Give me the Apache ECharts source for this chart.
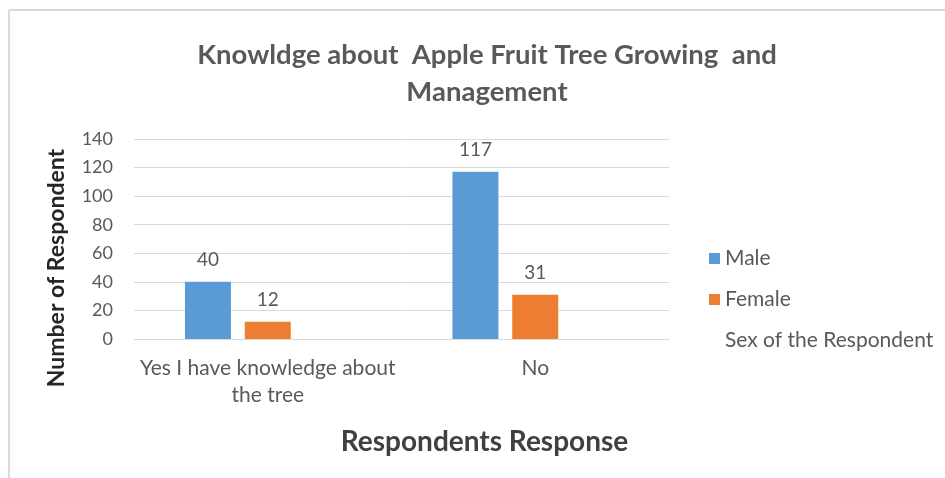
<!DOCTYPE html>
<html>
<head>
<meta charset="utf-8">
<script src="https://cdn.jsdelivr.net/npm/echarts@6/dist/echarts.min.js"></script>
<style>
  html, body { margin: 0; padding: 0; background: #ffffff; }
  #chart { width: 945px; height: 478px; }
</style>
</head>
<body>
<div id="chart"></div>
<script>
// Responses grouped by answer, split by sex of the respondent
const categories = ['Yes I have knowledge about\nthe tree', 'No'];
const maleValues = [40, 117];
const femaleValues = [12, 31];
const sexOfRespondentValues = [];   // legend-only entry, no bars
const yTicks = { min: 0, max: 140, interval: 20 };

const FONT = 'Lato, "Open Sans", sans-serif';
const TEXT = '#595959';
const GRID = '#d9d9d9';

const chart = echarts.init(document.getElementById('chart'), null, { renderer: 'canvas' });

const labelStyle = {
  show: true,
  position: 'top',
  distance: 12,
  fontFamily: FONT,
  fontSize: 19,
  color: TEXT
};

chart.setOption({
  backgroundColor: '#ffffff',
  animation: false,
  title: {
    text: 'Knowldge about  Apple Fruit Tree Growing  and\nManagement',
    left: 482,
    textAlign: 'center',
    top: 32,
    textStyle: {
      fontFamily: FONT,
      fontSize: 27.5,
      fontWeight: 'bold',
      color: TEXT,
      lineHeight: 37
    }
  },
  legend: {
    orient: 'vertical',
    left: 704,
    top: 243,
    itemWidth: 11,
    itemHeight: 11,
    itemGap: 20,
    textStyle: { fontFamily: FONT, fontSize: 21, color: TEXT },
    data: [
      { name: 'Male', icon: 'rect' },
      { name: 'Female', icon: 'rect' },
      { name: 'Sex of the Respondent', icon: 'none' }
    ]
  },
  grid: { left: 134, right: 276, top: 139, bottom: 139, containLabel: false },
  xAxis: {
    type: 'category',
    data: categories,
    axisLine: { show: true, lineStyle: { color: GRID, width: 1 } },
    axisTick: { show: false },
    axisLabel: {
      interval: 0,
      margin: 16,
      fontFamily: FONT,
      fontSize: 21,
      lineHeight: 27,
      color: TEXT,
      align: 'center'
    },
    name: 'Respondents Response',
    nameLocation: 'middle',
    nameGap: 89,
    nameTextStyle: {
      fontFamily: FONT,
      fontSize: 28,
      fontWeight: 'bold',
      color: '#404040',
      padding: [0, 0, 0, 166]
    }
  },
  yAxis: {
    type: 'value',
    min: yTicks.min,
    max: yTicks.max,
    interval: yTicks.interval,
    axisLine: { show: false },
    axisTick: { show: false },
    splitLine: { lineStyle: { color: GRID, width: 1 } },
    axisLabel: {
      margin: 21,
      fontFamily: FONT,
      fontSize: 18,
      color: TEXT
    },
    name: 'Number of Respondent',
    nameLocation: 'middle',
    nameGap: 66,
    nameTextStyle: {
      fontFamily: FONT,
      fontSize: 23,
      fontWeight: 'bold',
      color: '#262626',
      padding: [0, 58, 0, 0]
    }
  },
  series: [
    {
      name: 'Male',
      type: 'bar',
      data: maleValues,
      barWidth: 46,
      barGap: '30%',
      itemStyle: { color: '#5b9bd5' },
      label: labelStyle
    },
    {
      name: 'Female',
      type: 'bar',
      data: femaleValues,
      barWidth: 46,
      barGap: '30%',
      itemStyle: { color: '#ed7d31' },
      label: labelStyle
    },
    {
      name: 'Sex of the Respondent',
      type: 'bar',
      data: sexOfRespondentValues,
      barWidth: 46,
      barGap: '30%',
      itemStyle: { color: 'rgba(0,0,0,0)' }
    }
  ],
  graphic: [
    // thin frame along the top and left edges
    {
      type: 'line',
      shape: { x1: 9, y1: 10, x2: 945, y2: 10 },
      style: { stroke: '#dadada', lineWidth: 2 },
      silent: true
    },
    {
      type: 'line',
      shape: { x1: 9, y1: 10, x2: 9, y2: 478 },
      style: { stroke: '#dadada', lineWidth: 2 },
      silent: true
    }
  ]
});
</script>
</body>
</html>
